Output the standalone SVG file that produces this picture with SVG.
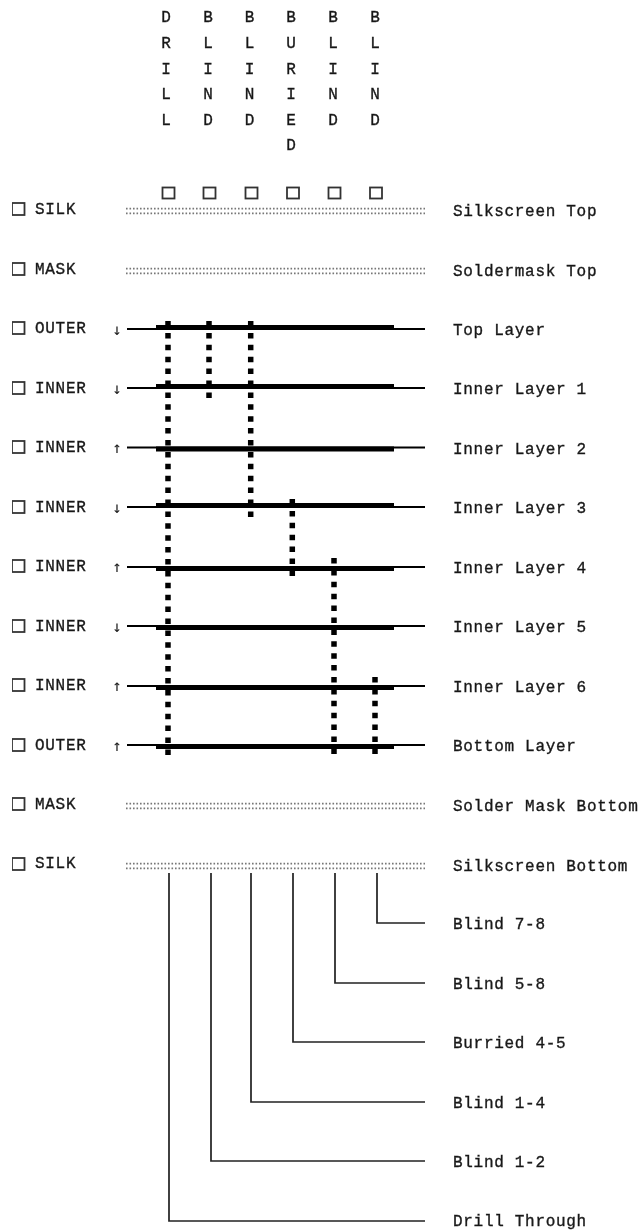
<svg xmlns="http://www.w3.org/2000/svg" width="641" height="1230" viewBox="0 0 641 1230">
<style>
text{font-family:"Liberation Mono","Courier New",monospace;font-size:16px;fill:#1a1a1a;font-weight:400;stroke:#1a1a1a;stroke-width:.35}
.l{letter-spacing:.7px}
.c{text-anchor:middle}
.a{font-family:"DejaVu Sans Mono",monospace;font-size:16px;stroke-width:0;fill:#222}
.box{fill:none;stroke:#333;stroke-width:1.8}
.thin{stroke:#000;stroke-width:1.8;fill:none}
.thick{stroke:#000;stroke-width:5;fill:none}
.via{stroke:#000;stroke-width:5.5;stroke-dasharray:5.5 6.4;fill:none}
.dot{stroke:#777;stroke-width:1.8;stroke-dasharray:1.6 1.9;fill:none}
.wire{stroke:#222;stroke-width:1.7;fill:none}
</style>
<defs>
<filter id="soft" x="0" y="0" width="100%" height="100%"><feGaussianBlur stdDeviation="0.35"/></filter>
<g id="dots"><path class="dot" d="M126 -2.3H425M126 2.3H425"/></g>
</defs>
<g filter="url(#soft)">
<g id="column-headers">
<g id="col-drill"><text class="c" x="166" y="22">D</text><text class="c" x="166" y="48">R</text><text class="c" x="166" y="74">I</text><text class="c" x="166" y="99">L</text><text class="c" x="166" y="125">L</text><rect class="box" x="162.5" y="187.5" width="12" height="11"/></g>
<g id="col-blind1"><text class="c" x="208" y="22">B</text><text class="c" x="208" y="48">L</text><text class="c" x="208" y="74">I</text><text class="c" x="208" y="99">N</text><text class="c" x="208" y="125">D</text><rect class="box" x="203.5" y="187.5" width="12" height="11"/></g>
<g id="col-blind2"><text class="c" x="249.500" y="22">B</text><text class="c" x="249.500" y="48">L</text><text class="c" x="249.500" y="74">I</text><text class="c" x="249.500" y="99">N</text><text class="c" x="249.500" y="125">D</text><rect class="box" x="245.5" y="187.5" width="12" height="11"/></g>
<g id="col-buried"><text class="c" x="291" y="22">B</text><text class="c" x="291" y="48">U</text><text class="c" x="291" y="74">R</text><text class="c" x="291" y="99">I</text><text class="c" x="291" y="125">E</text><text class="c" x="291" y="150">D</text><rect class="box" x="287" y="187.5" width="12" height="11"/></g>
<g id="col-blind3"><text class="c" x="333" y="22">B</text><text class="c" x="333" y="48">L</text><text class="c" x="333" y="74">I</text><text class="c" x="333" y="99">N</text><text class="c" x="333" y="125">D</text><rect class="box" x="328.5" y="187.5" width="12" height="11"/></g>
<g id="col-blind4"><text class="c" x="375" y="22">B</text><text class="c" x="375" y="48">L</text><text class="c" x="375" y="74">I</text><text class="c" x="375" y="99">N</text><text class="c" x="375" y="125">D</text><rect class="box" x="370" y="187.5" width="12" height="11"/></g>
</g>
<g id="connectors">
<use href="#dots" y="211"/><use href="#dots" y="271"/><use href="#dots" y="806"/><use href="#dots" y="866"/>
<path class="thin" d="M127 329H425M127 388H425M127 447.500H425M127 507H425M127 567H425M127 626H425M127 686H425M127 745H425"/>
<path class="thick" d="M156 327.500H394M156 386.500H394M156 449H394M156 505.500H394M156 568.500H394M156 627.500H394M156 687.500H394M156 746.500H394"/>
<path class="via" d="M168 321V755M209 321V398M250.700 321V517M292.300 499V577M334 558V754M375 677V754"/>
<path class="wire" d="M377 873V923H425M335 873V983H425M293 873V1042H425M251 873V1102H425M211 873V1161H425M169 873V1221H425"/>
</g>
<g id="layer-silk-top"><rect class="box" x="12" y="203" width="12.5" height="12"/><text class="l" x="35" y="214">SILK</text><text class="l" x="453" y="216">Silkscreen Top</text></g>
<g id="layer-mask-top"><rect class="box" x="12" y="263" width="12.5" height="12"/><text class="l" x="35" y="274">MASK</text><text class="l" x="453" y="276">Soldermask Top</text></g>
<g id="layer-top"><rect class="box" x="12" y="322" width="12.5" height="12"/><text class="l" x="35" y="333">OUTER</text><text x="117" y="335" class="c a">↓</text><text class="l" x="453" y="335">Top Layer</text></g>
<g id="layer-inner1"><rect class="box" x="12" y="382" width="12.5" height="12"/><text class="l" x="35" y="393">INNER</text><text x="117" y="394" class="c a">↓</text><text class="l" x="453" y="394">Inner Layer 1</text></g>
<g id="layer-inner2"><rect class="box" x="12" y="441" width="12.5" height="12"/><text class="l" x="35" y="452">INNER</text><text x="117" y="453" class="c a">↑</text><text class="l" x="453" y="454">Inner Layer 2</text></g>
<g id="layer-inner3"><rect class="box" x="12" y="501" width="12.5" height="12"/><text class="l" x="35" y="512">INNER</text><text x="117" y="513" class="c a">↓</text><text class="l" x="453" y="513">Inner Layer 3</text></g>
<g id="layer-inner4"><rect class="box" x="12" y="560" width="12.5" height="12"/><text class="l" x="35" y="571">INNER</text><text x="117" y="572" class="c a">↑</text><text class="l" x="453" y="573">Inner Layer 4</text></g>
<g id="layer-inner5"><rect class="box" x="12" y="620" width="12.5" height="12"/><text class="l" x="35" y="631">INNER</text><text x="117" y="632" class="c a">↓</text><text class="l" x="453" y="632">Inner Layer 5</text></g>
<g id="layer-inner6"><rect class="box" x="12" y="679" width="12.5" height="12"/><text class="l" x="35" y="690">INNER</text><text x="117" y="691" class="c a">↑</text><text class="l" x="453" y="692">Inner Layer 6</text></g>
<g id="layer-bottom"><rect class="box" x="12" y="739" width="12.5" height="12"/><text class="l" x="35" y="750">OUTER</text><text x="117" y="751" class="c a">↑</text><text class="l" x="453" y="751">Bottom Layer</text></g>
<g id="layer-mask-bottom"><rect class="box" x="12" y="798" width="12.5" height="12"/><text class="l" x="35" y="809">MASK</text><text class="l" x="453" y="811">Solder Mask Bottom</text></g>
<g id="layer-silk-bottom"><rect class="box" x="12" y="858" width="12.5" height="12"/><text class="l" x="35" y="868">SILK</text><text class="l" x="453" y="871">Silkscreen Bottom</text></g>
<g id="via-labels">
<text class="l" x="453" y="929">Blind 7-8</text>
<text class="l" x="453" y="989">Blind 5-8</text>
<text class="l" x="453" y="1048">Burried 4-5</text>
<text class="l" x="453" y="1108">Blind 1-4</text>
<text class="l" x="453" y="1167">Blind 1-2</text>
<text class="l" x="453" y="1226">Drill Through</text>
</g>
</g>
</svg>
